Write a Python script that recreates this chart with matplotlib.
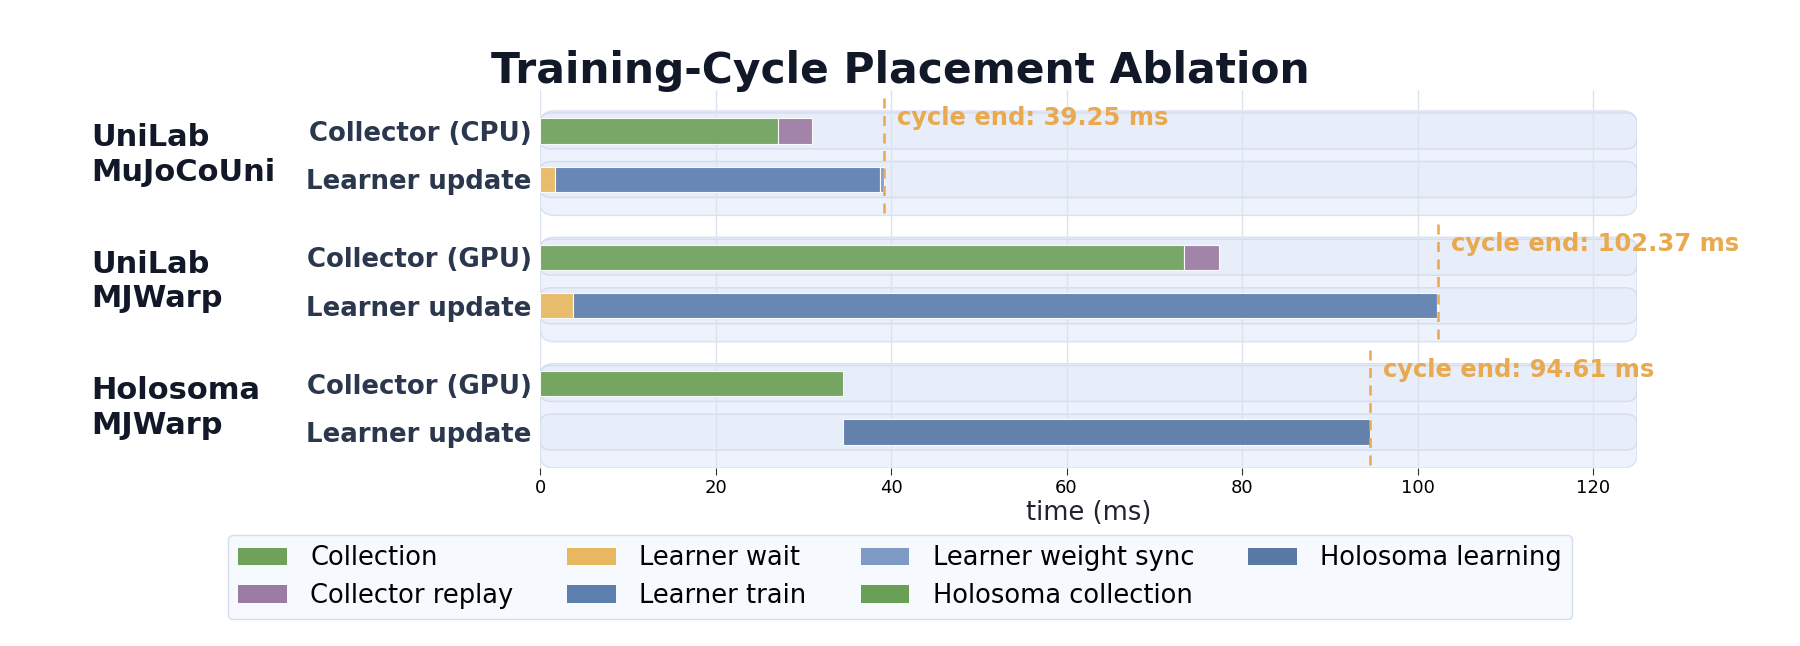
import matplotlib
matplotlib.use("Agg")
import matplotlib.pyplot as plt
from matplotlib.patches import FancyBboxPatch, Patch
from matplotlib.transforms import blended_transform_factory

# groups / lanes
groups = ["UniLab\nMuJoCoUni", "UniLab\nMJWarp", "Holosoma\nMJWarp"]
lane_labels = [["Collector (CPU)", "Learner update"],
               ["Collector (GPU)", "Learner update"],
               ["Collector (GPU)", "Learner update"]]
cycle_end = [39.25, 102.37, 94.61]

# timeline segments (ms)
seg_group = [0, 0, 0, 0, 0, 1, 1, 1, 1, 1, 2, 2]
seg_lane = [0, 0, 1, 1, 1, 0, 0, 1, 1, 1, 0, 1]
seg_start = [0, 27.1, 0, 1.7, 38.8, 0, 73.4, 0, 3.8, 102.2, 0, 34.5]
seg_end = [27.1, 31.0, 1.7, 38.8, 39.25, 73.4, 77.4, 3.8, 102.2, 102.37, 34.5, 94.61]
seg_phase = ["Collection", "Collector replay", "Learner wait", "Learner train", "Learner weight sync",
             "Collection", "Collector replay", "Learner wait", "Learner train", "Learner weight sync",
             "Holosoma collection", "Holosoma learning"]

phases = ["Collection", "Collector replay", "Learner wait", "Learner train",
          "Learner weight sync", "Holosoma collection", "Holosoma learning"]
phase_colors = {
    "Collection": "#6fa15b",
    "Collector replay": "#9c7ba2",
    "Learner wait": "#e8b860",
    "Learner train": "#5d7fae",
    "Learner weight sync": "#7e9bc5",
    "Holosoma collection": "#6aa055",
    "Holosoma learning": "#5878a6",
}

group_step = 2.6
xmax = 125

fig = plt.figure(figsize=(18, 6.46), dpi=100)
ax = fig.add_axes([0.3, 0.2755, 0.6094, 0.585])
ax.set_xlim(0, xmax)
ax.set_ylim(6.94, -0.84)

# aspect to keep rounded corners round
asp = (7.78 / 378) / (xmax / 1097)

row_pos = []
row_names = []
for g, name in enumerate(groups):
    base = g * group_step
    outer = FancyBboxPatch((0, base - 0.41), xmax, 2.15,
                           boxstyle="round,pad=0,rounding_size=1.6",
                           mutation_aspect=asp, facecolor="#edf2fc",
                           edgecolor="#d9e2f1", linewidth=1.0, zorder=1)
    ax.add_patch(outer)
    for l in range(2):
        y = base + l
        lane = FancyBboxPatch((0, y - 0.37), xmax, 0.74,
                              boxstyle="round,pad=0,rounding_size=1.2",
                              mutation_aspect=asp, facecolor="#e7edf9",
                              edgecolor="#d4ddee", linewidth=1.0, zorder=1.5)
        ax.add_patch(lane)
        row_pos.append(y)
        row_names.append(lane_labels[g][l])

for g0, l0, s, e, p in zip(seg_group, seg_lane, seg_start, seg_end, seg_phase):
    ax.barh(g0 * group_step + l0, e - s, left=s, height=0.52,
            color=phase_colors[p], alpha=0.92, edgecolor="white",
            linewidth=0.8, zorder=3)

trans = blended_transform_factory(fig.transFigure, ax.transData)
for g, name in enumerate(groups):
    base = g * group_step
    end = cycle_end[g]
    ax.vlines(end, base - 0.68, base + 1.74, colors="#e8a94f",
              linestyles=(0, (4, 3)), linewidth=1.8, zorder=4, clip_on=False)
    ax.text(end + 1.4, base - 0.27, f"cycle end: {end:.2f} ms", color="#e8a94f",
            fontsize=17.5, fontweight="bold", va="center", ha="left", clip_on=False, zorder=5)
    ax.text(0.0505, base + 0.5, name, transform=trans, ha="left", va="center",
            fontsize=22, fontweight="bold", color="#111827", linespacing=1.25)

ax.set_yticks(row_pos)
ax.set_yticklabels(row_names, fontsize=18.7, fontweight="bold", color="#2b374c")
ax.tick_params(axis="y", length=0, pad=6)
ax.set_xticks(range(0, 121, 20))
ax.tick_params(axis="x", labelsize=13, length=5, color="#333333", pad=3)

ax.set_axisbelow(False)
ax.grid(axis="x", color="#dbe3ef", linewidth=1.0)
ax.grid(axis="y", visible=False)
for s in ax.spines.values():
    s.set_visible(False)

ax.set_xlabel("time (ms)", fontsize=18.5, color="#1f2430", labelpad=2)

fig.suptitle("Training-Cycle Placement Ablation", fontsize=30.5, fontweight="bold",
             color="#111827", y=0.89, va="center")

handles = [Patch(facecolor=phase_colors[p], label=p) for p in phases]
leg = fig.legend(handles=handles, ncol=4, loc="upper center",
                 bbox_to_anchor=(0.5, 0.1915), fontsize=18.5, frameon=True,
                 facecolor="#f6f9fe", edgecolor="#d4deee", handlelength=1.9,
                 handleheight=0.65, handletextpad=0.9, columnspacing=2.1,
                 labelspacing=0.45, fancybox=True, framealpha=1)

fig.savefig("out.png", dpi=100)
